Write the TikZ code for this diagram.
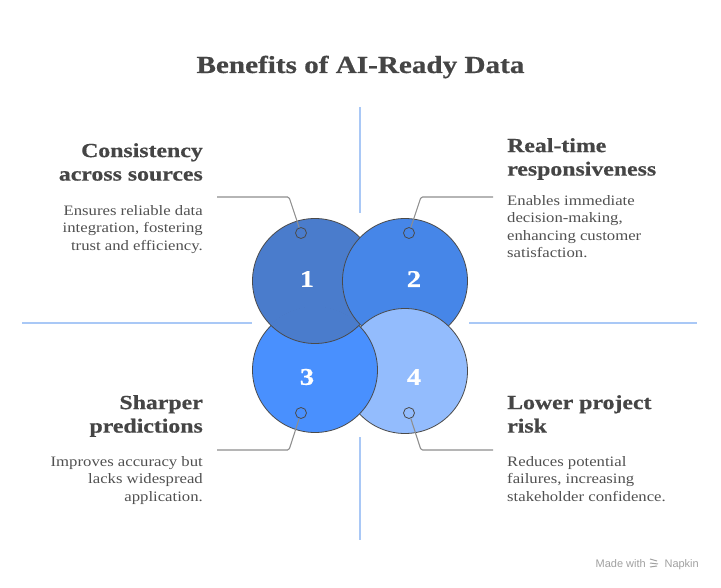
\documentclass[tikz,border=0pt]{standalone}
\usepackage{fontspec}
\setmainfont{Liberation Serif}[FakeStretch=1.16, BoldFeatures={FakeStretch=1.19, FakeBold=0.6}]
\newfontfamily\napkinfont{Liberation Sans}
\usepackage{xcolor}
\usetikzlibrary{positioning}

\definecolor{blueA}{HTML}{4A7CCC}
\definecolor{blueB}{HTML}{4686E8}
\definecolor{blueC}{HTML}{4990FE}
\definecolor{blueD}{HTML}{93BCFD}
\definecolor{rimgray}{HTML}{4A4A4A}
\definecolor{headgray}{HTML}{454545}
\definecolor{bodygray}{HTML}{505050}
\definecolor{leadgray}{HTML}{8E8E8E}
\definecolor{guideblue}{HTML}{A9C8F6}
\definecolor{markgray}{HTML}{A0A0A0}

\begin{document}
\begin{tikzpicture}[
      x=1pt, y=-1pt,
      bubble/.style  = {circle, draw=rimgray, line width=0.8pt, minimum size=125pt, inner sep=0pt},
      numtxt/.style  = {text=white, font=\fontsize{24}{24}\selectfont\bfseries},
      heading/.style = {inner sep=0pt, text=headgray, font=\fontsize{20}{23.5}\selectfont\bfseries},
      blurb/.style   = {inner sep=0pt, text=bodygray, font=\fontsize{14.4}{17.5}\selectfont},
      pin/.style     = {circle, draw=rimgray, line width=0.8pt, minimum size=11pt, inner sep=0pt},
      leader/.style  = {draw=leadgray, line width=1.1pt, rounded corners=1.5pt},
      guide/.style   = {draw=guideblue, line width=1.2pt}
  ]
  \useasboundingbox (0,0) rectangle (721,588);

  % --- Title ---
  \node[anchor=base, text=headgray, font=\fontsize{24.5}{24.5}\selectfont\bfseries]
        (title) at (360.5,73) {Benefits of AI-Ready Data};

  % --- Guide lines (quadrants) ---
  \coordinate (gT1) at (360,107);  \coordinate (gT2) at (360,213);
  \coordinate (gB1) at (360,437);  \coordinate (gB2) at (360,540);
  \coordinate (gL1) at (22,323);   \coordinate (gL2) at (252,323);
  \coordinate (gR1) at (469,323);  \coordinate (gR2) at (697,323);
  \draw[guide] (gT1) -- (gT2);
  \draw[guide] (gB1) -- (gB2);
  \draw[guide] (gL1) -- (gL2);
  \draw[guide] (gR1) -- (gR2);

  % --- Bubbles (pinwheel overlap) ---
  \node[bubble, fill=blueA] (b1) at (315,281) {};
  \node[bubble, fill=blueB] (b2) at (405,281) {};
  \node[bubble, fill=blueD] (b4) at (405,371) {};
  \node[bubble, fill=blueC] (b3) at (315,370) {};
  \begin{scope}
    \clip (b3.center) circle [radius=63.5pt];
    \node[bubble, fill=blueA] (b1top) at (b1.center) {};
  \end{scope}

  \node[numtxt] (n1) at (307,279) {1};
  \node[numtxt] (n2) at (414,279) {2};
  \node[numtxt] (n3) at (307,377) {3};
  \node[numtxt] (n4) at (414,377) {4};

  % --- Pins and leaders ---
  \node[pin] (p1) at (301,233) {};
  \node[pin] (p2) at (409,233) {};
  \node[pin] (p3) at (301,413) {};
  \node[pin] (p4) at (409,413) {};

  \coordinate (k1) at (289,197);  \coordinate (e1) at (217,197);
  \coordinate (k2) at (421,197);  \coordinate (e2) at (493,197);
  \coordinate (k3) at (289,450);  \coordinate (e3) at (217,450);
  \coordinate (k4) at (421,450);  \coordinate (e4) at (493,450);
  \draw[leader] (p1) -- (k1) -- (e1);
  \draw[leader] (p2) -- (k2) -- (e2);
  \draw[leader] (p3) -- (k3) -- (e3);
  \draw[leader] (p4) -- (k4) -- (e4);

  % --- Texts ---
  \node[heading, align=right, anchor=north east] (h1) at (203,143)
        {Consistency\\across sources};
  \node[blurb, align=right, anchor=north east] (t1) at (203,205)
        {Ensures reliable data\\integration, fostering\\trust and efficiency.};

  \node[heading, align=left, anchor=north west] (h2) at (507,138)
        {Real-time\\responsiveness};
  \node[blurb, align=left, anchor=north west] (t2) at (507,195)
        {Enables immediate\\decision-making,\\enhancing customer\\satisfaction.};

  \node[heading, align=right, anchor=north east] (h3) at (203,395)
        {Sharper\\predictions};
  \node[blurb, align=right, anchor=north east] (t3) at (203,456)
        {Improves accuracy but\\lacks widespread\\application.};

  \node[heading, align=left, anchor=north west] (h4) at (507,395)
        {Lower project\\risk};
  \node[blurb, align=left, anchor=north west] (t4) at (507,456)
        {Reduces potential\\failures, increasing\\stakeholder confidence.};

  % --- Footer ---
  \node[anchor=base east, inner sep=0pt, text=markgray, font=\napkinfont\fontsize{11}{11}\selectfont]
        (brand) at (699,567) {Napkin};
  \coordinate (logo) at (654,563);
  \draw[markgray, line width=1pt] ([shift={(-4,-4)}]logo) -- ([shift={(3,-2)}]logo)
        ([shift={(-4,0)}]logo) -- ([shift={(4,1)}]logo)
        ([shift={(-4,4)}]logo) -- ([shift={(3,3)}]logo);
  \node[anchor=base east, inner sep=0pt, text=markgray, font=\napkinfont\fontsize{11}{11}\selectfont]
        (made) at (646,567) {Made with};

  \end{tikzpicture}
\end{document}
